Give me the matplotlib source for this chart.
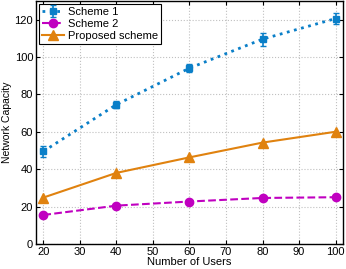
import matplotlib
matplotlib.use("Agg")
import matplotlib.pyplot as plt

users = [20, 40, 60, 80, 100]
scheme1 = [49.5, 74.5, 94.0, 109.5, 120.5]
scheme1_err = [3.0, 2.0, 2.0, 3.5, 3.0]
scheme2 = [15.5, 20.5, 22.7, 24.6, 25.0]
proposed = [24.8, 38.0, 46.3, 54.2, 60.0]

blue = "#0a7fc8"
magenta = "#c000c0"
orange = "#e0820f"

plt.rcParams["font.family"] = ["Liberation Sans", "DejaVu Sans"]
plt.rcParams["font.size"] = 7.5

fig = plt.figure(figsize=(3.46, 2.69), dpi=100)
ax = fig.add_axes([0.104, 0.093, 0.887, 0.904])

h1 = ax.errorbar(users, scheme1, yerr=scheme1_err, color=blue, ls=":", lw=2,
                 marker="s", ms=5, capsize=2.5, elinewidth=1.2, label="Scheme 1")
h2, = ax.plot(users, scheme2, color=magenta, ls="--", lw=1.5, marker="o", ms=6,
              label="Scheme 2")
h3, = ax.plot(users, proposed, color=orange, ls="-", lw=1.5, marker="^", ms=7,
              label="Proposed scheme")

ax.set_xlim(18, 102)
ax.set_ylim(0, 130)
ax.set_xticks(range(20, 101, 10))
ax.set_yticks(range(0, 121, 20))
ax.grid(True, ls=":", color="#c0c0c0", lw=0.8)
ax.tick_params(direction="in", top=True, right=True, length=3, pad=2,
               labelsize=8)
for s in ax.spines.values():
    s.set_linewidth(1.0)

ax.set_xlabel("Number of Users", labelpad=0, fontsize=8)
ax.set_ylabel("Network Capacity", labelpad=2)

leg = ax.legend([h1, h2, h3], ["Scheme 1", "Scheme 2", "Proposed scheme"],
                loc="upper left", fancybox=False, edgecolor="black",
                framealpha=1, borderpad=0.25, labelspacing=0.2,
                handlelength=2.0, handletextpad=0.3, borderaxespad=0.3,
                fontsize=8)
leg.get_frame().set_linewidth(0.8)

fig.savefig("out.png", dpi=100)
